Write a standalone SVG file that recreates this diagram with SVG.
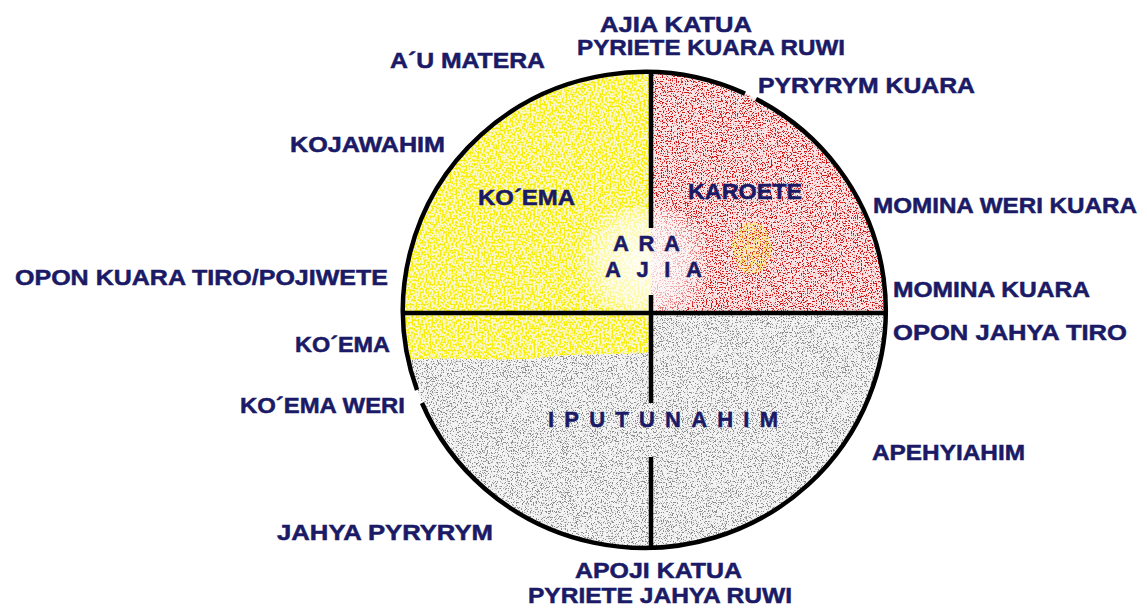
<svg xmlns="http://www.w3.org/2000/svg" width="1147" height="613" viewBox="0 0 1147 613">
  <style>
    .lbl { font-family: "Liberation Sans", Arial, sans-serif; font-weight: bold; font-size: 22px; fill: #1a1a66; stroke: #1a1a66; stroke-width: 0.5; }
    .ln { stroke: #000; stroke-width: 4.5; fill: none; }
  </style>
  <defs>
    <clipPath id="circ">
      <ellipse cx="644.5" cy="310" rx="241.5" ry="238"/>
    </clipPath>
    <filter id="fGray" filterUnits="userSpaceOnUse" x="0" y="0" width="1147" height="613" color-interpolation-filters="sRGB">
      <feTurbulence type="fractalNoise" baseFrequency="0.8" numOctaves="3" seed="7" result="n"/>
      <feColorMatrix in="n" type="matrix" values="0 0 0 0 0.55  0 0 0 0 0.55  0 0 0 0 0.55  12 0 0 0 -6.7" result="d"/>
      <feComposite in="d" in2="SourceAlpha" operator="in"/>
    </filter>
    <filter id="fYellow" filterUnits="userSpaceOnUse" x="0" y="0" width="1147" height="613" color-interpolation-filters="sRGB">
      <feTurbulence type="fractalNoise" baseFrequency="0.5" numOctaves="3" seed="3" result="n"/>
      <feColorMatrix in="n" type="matrix" values="0 0 0 0 0.97  0 0 0 0 0.93  0 0 0 0 0.05  9 0 0 0 -4.1" result="d"/>
      <feComposite in="d" in2="SourceAlpha" operator="in"/>
    </filter>
    <filter id="fRed" filterUnits="userSpaceOnUse" x="0" y="0" width="1147" height="613" color-interpolation-filters="sRGB">
      <feTurbulence type="fractalNoise" baseFrequency="0.8" numOctaves="3" seed="11" result="n"/>
      <feColorMatrix in="n" type="matrix" values="0 0 0 0 0.82  0 0 0 0 0.08  0 0 0 0 0.08  12 0 0 0 -6.6" result="d"/>
      <feComposite in="d" in2="SourceAlpha" operator="in"/>
    </filter>
    <radialGradient id="glow" cx="645" cy="262" r="70" gradientUnits="userSpaceOnUse">
      <stop offset="0" stop-color="#fff" stop-opacity="0.9"/>
      <stop offset="0.6" stop-color="#fff" stop-opacity="0.6"/>
      <stop offset="1" stop-color="#fff" stop-opacity="0"/>
    </radialGradient>
  </defs>

  <rect width="1147" height="613" fill="#fff"/>

  <g id="fills" clip-path="url(#circ)">
    <rect x="400" y="300" width="490" height="252" fill="#f3f3f3"/>
    <rect x="400" y="300" width="490" height="252" fill="#000" filter="url(#fGray)"/>
    <path d="M400,68 H651 V352 C620,356 580,352 540,358 C500,362 450,356 400,360 Z" fill="#fbf9cc"/>
    <path d="M400,68 H651 V352 C620,356 580,352 540,358 C500,362 450,356 400,360 Z" fill="#000" filter="url(#fYellow)"/>
    <rect x="651" y="68" width="240" height="245" fill="#f8e4e4"/>
    <rect x="651" y="68" width="240" height="245" fill="#000" filter="url(#fRed)"/>
    <ellipse cx="752" cy="248" rx="20" ry="26" fill="#000" filter="url(#fYellow)" opacity="0.45"/>
    <ellipse cx="645" cy="262" rx="80" ry="55" fill="url(#glow)"/>
  </g>

  <g id="circle">
    <path class="ln" d="M417,390 A241.5,238 0 0 1 745,93.6 M756,98.9 A241.5,238 0 1 1 422,403"/>
  </g>

  <g id="connectors">
    <line class="ln" x1="403" y1="313" x2="887" y2="313"/>
    <line class="ln" x1="651" y1="72" x2="651" y2="228"/>
    <line class="ln" x1="651" y1="295" x2="651" y2="403"/>
    <line class="ln" x1="651" y1="457" x2="651" y2="548"/>
  </g>

  <g id="labels">
    <g id="n-ajia-katua"><text class="lbl" x="600" y="32" textLength="152" lengthAdjust="spacingAndGlyphs">AJIA KATUA</text></g>
    <g id="n-pyriete-kuara-ruwi"><text class="lbl" x="577" y="55" textLength="268" lengthAdjust="spacingAndGlyphs">PYRIETE KUARA RUWI</text></g>
    <g id="n-au-matera"><text class="lbl" x="390" y="68" textLength="155" lengthAdjust="spacingAndGlyphs">A´U MATERA</text></g>
    <g id="n-pyryrym-kuara"><text class="lbl" x="758" y="93" textLength="217" lengthAdjust="spacingAndGlyphs">PYRYRYM KUARA</text></g>
    <g id="n-kojawahim"><text class="lbl" x="290" y="152" textLength="155" lengthAdjust="spacingAndGlyphs">KOJAWAHIM</text></g>
    <g id="n-koema-inner"><text class="lbl" x="478" y="205" textLength="97" lengthAdjust="spacingAndGlyphs">KO´EMA</text></g>
    <g id="n-karoete"><text class="lbl" x="688" y="199" textLength="114" lengthAdjust="spacingAndGlyphs">KAROETE</text></g>
    <g id="n-momina-weri-kuara"><text class="lbl" x="873" y="213" textLength="264" lengthAdjust="spacingAndGlyphs">MOMINA WERI KUARA</text></g>
    <g id="n-ara"><text class="lbl" x="613" y="251" textLength="67" lengthAdjust="spacing">ARA</text></g>
    <g id="n-ajia"><text class="lbl" x="605" y="277" textLength="97" lengthAdjust="spacing">AJIA</text></g>
    <g id="n-opon-kuara-tiro"><text class="lbl" x="15" y="285" textLength="373" lengthAdjust="spacingAndGlyphs">OPON KUARA TIRO/POJIWETE</text></g>
    <g id="n-momina-kuara"><text class="lbl" x="893" y="297" textLength="197" lengthAdjust="spacingAndGlyphs">MOMINA KUARA</text></g>
    <g id="n-opon-jahya-tiro"><text class="lbl" x="893" y="340" textLength="234" lengthAdjust="spacingAndGlyphs">OPON JAHYA TIRO</text></g>
    <g id="n-koema-left"><text class="lbl" x="295" y="352" textLength="95" lengthAdjust="spacingAndGlyphs">KO´EMA</text></g>
    <g id="n-koema-weri"><text class="lbl" x="240" y="413" textLength="165" lengthAdjust="spacingAndGlyphs">KO´EMA WERI</text></g>
    <g id="n-iputunahim"><text class="lbl" x="548" y="427" textLength="230" lengthAdjust="spacing">IPUTUNAHIM</text></g>
    <g id="n-apehyiahim"><text class="lbl" x="872" y="460" textLength="153" lengthAdjust="spacingAndGlyphs">APEHYIAHIM</text></g>
    <g id="n-jahya-pyryrym"><text class="lbl" x="277" y="540" textLength="216" lengthAdjust="spacingAndGlyphs">JAHYA PYRYRYM</text></g>
    <g id="n-apoji-katua"><text class="lbl" x="575" y="578" textLength="167" lengthAdjust="spacingAndGlyphs">APOJI KATUA</text></g>
    <g id="n-pyriete-jahya-ruwi"><text class="lbl" x="528" y="603" textLength="264" lengthAdjust="spacingAndGlyphs">PYRIETE JAHYA RUWI</text></g>
  </g>
</svg>
